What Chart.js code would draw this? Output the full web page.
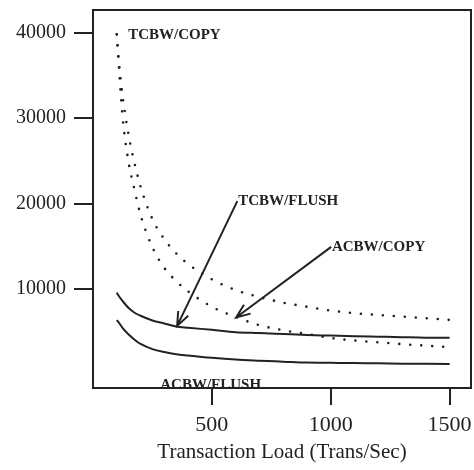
<!DOCTYPE html>
<html>
<head>
<meta charset="utf-8">
<script src="https://cdn.jsdelivr.net/npm/chart.js@4.4.0/dist/chart.umd.min.js"></script>
<style>
  body { margin: 0; background: #fff; }
</style>
</head>
<body>
<canvas id="chart" width="474" height="470"></canvas>
<script>
// x values (Trans/Sec)
const loads = [100, 110, 125, 150, 175, 200, 250, 300, 350, 400, 500, 600, 700, 800, 900, 1000, 1100, 1200, 1300, 1400, 1500];

// dotted curves
const tcbwCopy = [39800, 36300, 32500, 28000, 24700, 22000, 18200, 15850, 14200, 12950, 11150, 9900, 9080, 8430, 7950, 7500, 7200, 6990, 6800, 6610, 6410];
const acbwCopy = [39800, 35500, 30000, 24800, 21600, 18700, 14900, 12500, 10950, 9750, 7950, 6750, 5800, 5200, 4770, 4300, 4000, 3800, 3580, 3400, 3220];

// solid curves
const tcbwFlush = [9600, 9150, 8600, 7800, 7250, 6900, 6350, 6000, 5650, 5500, 5250, 4970, 4870, 4760, 4650, 4580, 4510, 4450, 4390, 4340, 4340];
const acbwFlush = [6400, 6050, 5450, 4700, 4100, 3600, 3000, 2650, 2400, 2250, 1980, 1770, 1640, 1530, 1420, 1390, 1360, 1335, 1300, 1280, 1260];

const xTicks = [500, 1000, 1500];
const yTicks = [10000, 20000, 30000, 40000];

// labels: [text, x, y] in data units; arrows: [fromX, fromY, toX, toY]
const labels = [
    ["TCBW/COPY", 148, 39700],
    ["TCBW/FLUSH", 611, 20300],
    ["ACBW/COPY", 1005, 14950],
    ["ACBW/FLUSH", 283, -1190]
];
const arrows = [
    [607, 20300, 354, 5710],
    [1002, 14950, 602, 6700]
];

const INK = "#222";
const SERIF = "'Liberation Serif', 'DejaVu Serif', serif";

const pts = arr => arr.map((v, i) => ({ x: loads[i], y: v }));

const dotted = {
    borderColor: INK, borderWidth: 2.6, borderDash: [0, 11],
    borderCapStyle: "round", pointRadius: 0, cubicInterpolationMode: "monotone", fill: false
};
const solid = {
    borderColor: INK, borderWidth: 2, pointRadius: 0,
    cubicInterpolationMode: "monotone", fill: false
};

// no extra room for overhanging tick labels
const noPad = s => { s.paddingLeft = 0; s.paddingRight = 0; s.paddingTop = 0; s.paddingBottom = 0; };

const framePlugin = {
    id: "frame",
    afterDraw(chart) {
        const { ctx, chartArea: a, scales } = chart;
        ctx.save();
        ctx.strokeStyle = INK;
        ctx.lineWidth = 2;
        ctx.strokeRect(a.left, a.top, a.right - a.left, a.bottom - a.top);

        ctx.fillStyle = INK;
        ctx.font = "bold 15px " + SERIF;
        ctx.textBaseline = "middle";
        labels.forEach(([t, x, y]) => {
            ctx.fillText(t, scales.x.getPixelForValue(x), scales.y.getPixelForValue(y));
        });

        ctx.lineWidth = 2;
        arrows.forEach(([x1, y1, x2, y2]) => {
            const px1 = scales.x.getPixelForValue(x1), py1 = scales.y.getPixelForValue(y1);
            const px2 = scales.x.getPixelForValue(x2), py2 = scales.y.getPixelForValue(y2);
            const ang = Math.atan2(py2 - py1, px2 - px1);
            const len = 15, spread = 0.38;
            ctx.beginPath();
            ctx.moveTo(px1, py1);
            ctx.lineTo(px2, py2);
            ctx.moveTo(px2 - len * Math.cos(ang - spread), py2 - len * Math.sin(ang - spread));
            ctx.lineTo(px2, py2);
            ctx.lineTo(px2 - len * Math.cos(ang + spread), py2 - len * Math.sin(ang + spread));
            ctx.stroke();
        });
        ctx.restore();
    }
};

new Chart(document.getElementById("chart"), {
    type: "line",
    data: {
        datasets: [
            { label: "TCBW/COPY", data: pts(tcbwCopy), ...dotted },
            { label: "ACBW/COPY", data: pts(acbwCopy), ...dotted },
            { label: "TCBW/FLUSH", data: pts(tcbwFlush), ...solid },
            { label: "ACBW/FLUSH", data: pts(acbwFlush), ...solid }
        ]
    },
    options: {
        responsive: false,
        animation: false,
        layout: { padding: { top: 10, right: 3, left: 0, bottom: 0 } },
        plugins: { legend: { display: false }, tooltip: { enabled: false } },
        scales: {
            x: {
                type: "linear", min: 0, max: 1590,
                afterBuildTicks: s => { s.ticks = xTicks.map(v => ({ value: v })); },
                afterFit: s => { s.height = 82; noPad(s); },
                grid: { drawOnChartArea: false, drawTicks: true, tickLength: 17, color: INK, lineWidth: 2 },
                border: { display: true, color: INK, width: 2 },
                ticks: { color: INK, padding: 7, font: { family: SERIF, size: 22 }, callback: v => String(v) },
                title: {
                    display: true, text: "Transaction Load (Trans/Sec)", color: INK,
                    font: { family: SERIF, size: 21 }, padding: { top: 0, bottom: 5 }
                }
            },
            y: {
                type: "linear", min: -1550, max: 42650,
                afterBuildTicks: s => { s.ticks = yTicks.map(v => ({ value: v })); },
                afterFit: s => { s.width = 93; noPad(s); },
                grid: { drawOnChartArea: false, drawTicks: true, tickLength: 19, color: INK, lineWidth: 2 },
                border: { display: true, color: INK, width: 2 },
                ticks: { color: INK, padding: 8, font: { family: SERIF, size: 20 }, callback: v => String(v) }
            }
        }
    },
    plugins: [framePlugin]
});
</script>
</body>
</html>
